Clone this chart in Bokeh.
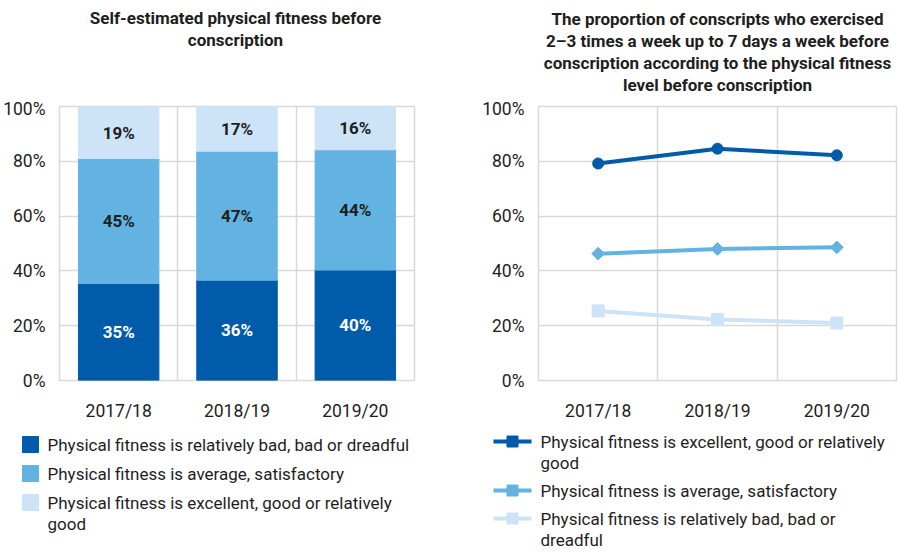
import numpy as np
from bokeh.plotting import figure
from bokeh.layouts import row, column
from bokeh.models import Range1d, FixedTicker, PrintfTickFormatter
from bokeh.core.properties import value
from bokeh.embed import file_html
from bokeh.resources import INLINE

# ---------------- data ----------------
seasons = ["2017/18", "2018/19", "2019/20"]

# left chart: self-estimated fitness shares (%)
bad_share = [35.4, 36.6, 40.3]
avg_share = [45.6, 47.1, 43.9]
good_share = [19.0, 16.3, 15.8]
bad_labels = ["35%", "36%", "40%"]
avg_labels = ["45%", "47%", "44%"]
good_labels = ["19%", "17%", "16%"]

left_title = "Self-estimated physical fitness before\nconscription"
left_legend = [
    "Physical fitness is relatively bad, bad or dreadful",
    "Physical fitness is average, satisfactory",
    "Physical fitness is excellent, good or relatively\ngood",
]

# right chart: share who exercised 2-3 times a week up to 7 days a week (%)
right_title = ("The proportion of conscripts who exercised\n"
               "2\u20133 times a week up to 7 days a week before\n"
               "conscription according to the physical fitness\n"
               "level before conscription")
good_exercise = [79.2, 84.6, 82.2]
avg_exercise = [46.3, 48.0, 48.6]
bad_exercise = [25.4, 22.3, 21.0]
right_legend = [
    "Physical fitness is excellent, good or relatively\ngood",
    "Physical fitness is average, satisfactory",
    "Physical fitness is relatively bad, bad or\ndreadful",
]

y_ticks = [0, 20, 40, 60, 80, 100]

# ---------------- style ----------------
DARK = "#005BAA"
MID = "#63B3E2"
LIGHT = "#CDE3F7"
GRID = "#D9D9D9"
TXT = "#1E1E1E"
FONT = "Roboto"
FS = "17px"
AX_FS = "17.5px"

xs = list(range(len(seasons)))

TITLE_H, CHART_H, LEG_H = 98, 330, 122


def chart(width, bl, br):
    p = figure(width=width, height=CHART_H, x_range=Range1d(-0.5, len(seasons) - 0.5),
               y_range=Range1d(0, 100), output_backend="svg", toolbar_location=None,
               min_border_left=bl, min_border_right=br, min_border_top=8,
               min_border_bottom=48, frame_align=False)
    p.outline_line_color = GRID
    p.outline_line_width = 1.5
    p.xaxis.ticker = FixedTicker(ticks=xs)
    p.xaxis.major_label_overrides = {i: s for i, s in enumerate(seasons)}
    p.yaxis.ticker = FixedTicker(ticks=y_ticks)
    p.yaxis.formatter = PrintfTickFormatter(format="%d%%")
    p.xgrid.ticker = FixedTicker(ticks=[i + 0.5 for i in xs[:-1]])
    p.ygrid.ticker = FixedTicker(ticks=y_ticks[1:-1])
    p.grid.grid_line_color = GRID
    p.grid.grid_line_width = 1.5
    for ax in (p.xaxis, p.yaxis):
        ax.axis_line_color = None
        ax.major_tick_line_color = None
        ax.minor_tick_line_color = None
        ax.major_label_text_font = FONT
        ax.major_label_text_font_size = AX_FS
        ax.major_label_text_color = TXT
    p.xaxis.major_label_standoff = 14
    p.yaxis.major_label_standoff = 8
    p.background_fill_color = "white"
    return p


def text_fig(width, height):
    p = figure(width=width, height=height, x_range=Range1d(0, width),
               y_range=Range1d(height, 0), output_backend="svg", toolbar_location=None,
               x_axis_type=None, y_axis_type=None, min_border=0, frame_align=False)
    p.grid.visible = False
    p.outline_line_color = None
    return p


# ---------------- left chart ----------------
WL, WR = 451, 449
LBL, LBR = 56, 37
RBL, RBR = 87, 4

lc = chart(WL, LBL, LBR)
b0 = [0] * len(xs)
b1 = list(np.array(bad_share))
b2 = list(np.array(bad_share) + np.array(avg_share))
b3 = list(np.array(b2) + np.array(good_share))
BW = 0.68
lc.vbar(x=xs, bottom=b0, top=b1, width=BW, color=DARK)
lc.vbar(x=xs, bottom=b1, top=b2, width=BW, color=MID)
lc.vbar(x=xs, bottom=b2, top=b3, width=BW, color=LIGHT)
for lo, hi, labs, col in ((b0, b1, bad_labels, "white"), (b1, b2, avg_labels, TXT),
                          (b2, b3, good_labels, TXT)):
    mids = [(a + b) / 2 for a, b in zip(lo, hi)]
    lc.text(x=xs, y=mids, text=labs, text_align="center", text_baseline="middle",
            text_font=value(FONT), text_font_size=FS, text_font_style="bold",
            text_color=col)

lt = text_fig(WL, TITLE_H)
lt.text(x=[LBL + (WL - LBL - LBR) / 2], y=[7], text=[left_title], text_align="center",
        text_baseline="top", text_font=value(FONT), text_font_size=FS,
        text_font_style="bold", text_color=TXT, text_line_height=1.1)

ll = text_fig(WL, LEG_H)
l_rows = [16, 45, 74]
for yy, lab, col in zip(l_rows, left_legend, (DARK, MID, LIGHT)):
    ll.scatter(x=[30], y=[yy], marker="square", size=16, color=col)
    ll.text(x=[47], y=[yy - 10], text=[lab], text_align="left", text_baseline="top",
            text_font=value(FONT), text_font_size=FS, text_color=TXT,
            text_line_height=1.07)

# ---------------- right chart ----------------
rc = chart(WR, RBL, RBR)
for vals, col, mk, sz, ang in ((good_exercise, DARK, "circle", 11, 0),
                               (avg_exercise, MID, "square", 9, np.pi / 4),
                               (bad_exercise, LIGHT, "square", 12, 0)):
    rc.line(x=xs, y=vals, line_width=4, color=col)
    rc.scatter(x=xs, y=vals, marker=mk, size=sz, angle=ang, color=col)

rt = text_fig(WR, TITLE_H)
rt.text(x=[RBL + (WR - RBL - RBR) / 2], y=[8], text=[right_title], text_align="center",
        text_baseline="top", text_font=value(FONT), text_font_size=FS,
        text_font_style="bold", text_color=TXT, text_line_height=1.1)

rl = text_fig(WR, LEG_H)
r_rows = [13, 62, 90]
for yy, lab, col in zip(r_rows, right_legend, (DARK, MID, LIGHT)):
    rl.segment(x0=[42], y0=[yy], x1=[80], y1=[yy], line_width=4, color=col)
    rl.scatter(x=[61], y=[yy], marker="square", size=11, color=col)
    rl.text(x=[89], y=[yy - 10], text=[lab], text_align="left", text_baseline="top",
            text_font=value(FONT), text_font_size=FS, text_color=TXT,
            text_line_height=1.05)

layout = row(column(lt, lc, ll), column(rt, rc, rl))
open("out.html", "w").write(file_html(layout, INLINE))
